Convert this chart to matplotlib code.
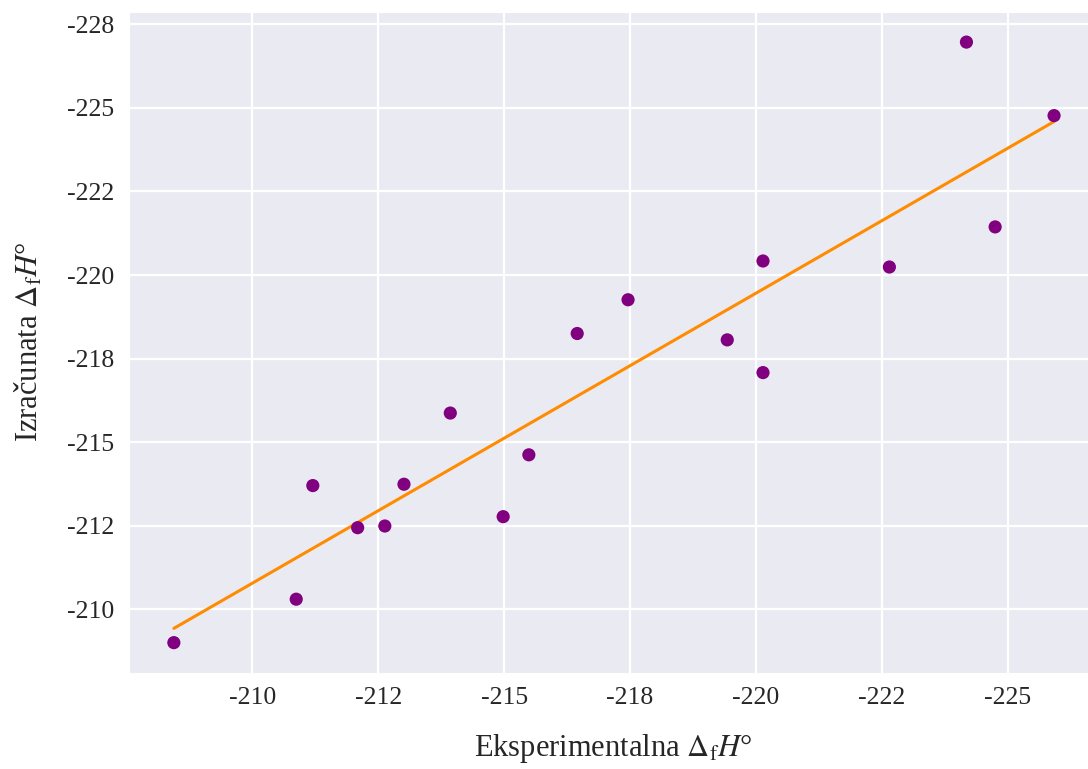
import numpy as np
import matplotlib
matplotlib.use("Agg")
import matplotlib.pyplot as plt
from matplotlib.ticker import MultipleLocator, FuncFormatter
import seaborn as sns

# values are stored as magnitudes, the labels add the minus sign
experimental = [208.44, 210.87, 211.20, 212.09, 212.63, 213.01, 213.93, 214.98, 215.49,
                216.45, 217.46, 219.43, 220.14, 220.14, 222.65, 224.18, 224.75, 225.92]
calculated = [209.00, 210.30, 213.70, 212.44, 212.49, 213.74, 215.87, 212.77, 214.62,
              218.25, 219.26, 218.06, 220.42, 217.08, 220.24, 226.97, 221.44, 224.77]

sns.set_style("darkgrid")
plt.rcParams['font.family'] = ['Liberation Serif', 'DejaVu Serif']
plt.rcParams['mathtext.fontset'] = 'stix'

x = np.array(experimental)
y = np.array(calculated)
slope, intercept = np.polyfit(x, y, 1)

fig = plt.figure(figsize=(10.88, 7.69), dpi=100)
ax = fig.add_axes([0.1186, 0.1252, 0.890, 0.8596])

ax.scatter(x, y, s=90, color='purple', edgecolor='none', zorder=3)
ax.plot(x, slope * x + intercept, color='darkorange', linewidth=2.2, zorder=2)

ax.set_xlim(207.55, 226.78)
ax.set_ylim(208.10, 227.88)
ax.xaxis.set_major_locator(MultipleLocator(2.5))
ax.yaxis.set_major_locator(MultipleLocator(2.5))
fmt = FuncFormatter(lambda v, p: f"-{v:.0f}")
ax.xaxis.set_major_formatter(fmt)
ax.yaxis.set_major_formatter(fmt)
ax.tick_params(axis='both', labelsize=18.5, colors='#262626', pad=7)
ax.grid(True, color='white', linewidth=1.6)

ax.set_xlabel(r"Eksperimentalna $\Delta_\mathrm{f}H$°", fontsize=22, labelpad=16, color='#262626')
ax.set_ylabel(r"Izračunata $\Delta_\mathrm{f}H$°", fontsize=22, labelpad=16, color='#262626')

fig.savefig("out.png", dpi=100)
